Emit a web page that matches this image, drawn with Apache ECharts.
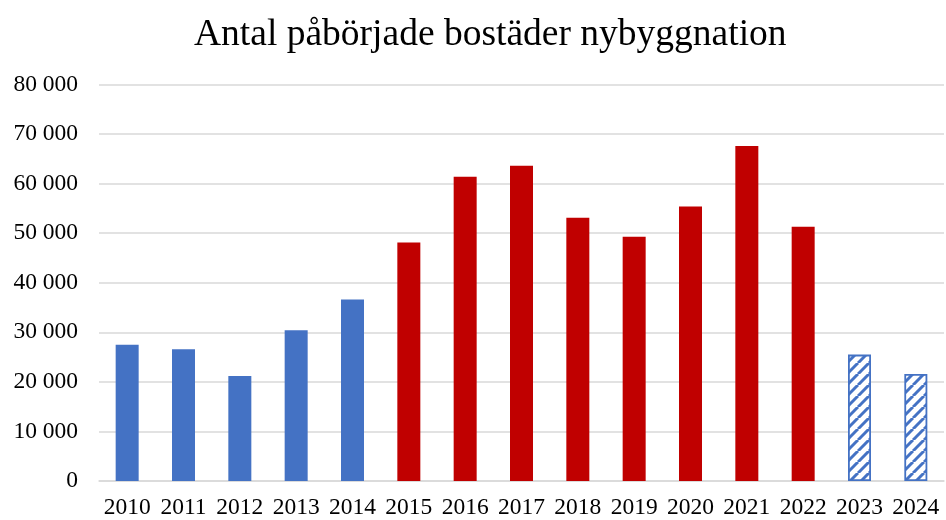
<!DOCTYPE html>
<html>
<head>
<meta charset="utf-8">
<script src="https://cdn.jsdelivr.net/npm/echarts@6/dist/echarts.min.js"></script>
<style>
html,body{margin:0;padding:0;background:#fff;}
#chart{width:946px;height:520px;}
</style>
</head>
<body>
<div id="chart"></div>
<script>
var years = ['2010','2011','2012','2013','2014','2015','2016','2017','2018','2019','2020','2021','2022','2023','2024'];
var starts = [27500, 26600, 21200, 30400, 36600, 48100, 61400, 63600, 53100, 49300, 55400, 67600, 51300, 25500, 21600];
var yTicks = [0, 10000, 20000, 30000, 40000, 50000, 60000, 70000, 80000];
var titleText = 'Antal påbörjade bostäder nybyggnation';

var BLUE = '#4472C4', RED = '#C00000';
var FONT = '"Liberation Serif", "Times New Roman", serif';

function hatch() {
  var c = document.createElement('canvas');
  var s = 11;
  c.width = s; c.height = s;
  var g = c.getContext('2d');
  g.fillStyle = '#fff';
  g.fillRect(0, 0, s, s);
  g.strokeStyle = BLUE;
  g.lineWidth = 3;
  [-s, 0, s].forEach(function (k) {
    g.beginPath();
    g.moveTo(k, s);
    g.lineTo(k + s, 0);
    g.stroke();
  });
  return c;
}
var pattern = { image: hatch(), repeat: 'repeat' };

var data = starts.map(function (v, i) {
  var y = +years[i];
  var style;
  if (y >= 2023) style = { color: pattern, borderColor: BLUE, borderWidth: 1.8 };
  else if (y >= 2015) style = { color: RED };
  else style = { color: BLUE };
  return { value: v, itemStyle: style };
});

var chart = echarts.init(document.getElementById('chart'), null, { renderer: 'canvas' });
chart.setOption({
  animation: false,
  backgroundColor: '#fff',
  title: {
    text: titleText,
    left: 189,
    top: 11,
    textStyle: { fontFamily: FONT, fontSize: 37.5, fontWeight: 'normal', color: '#000' }
  },
  grid: { left: 99, right: 2, top: 84.5, bottom: 37.5, containLabel: false },
  xAxis: {
    type: 'category',
    data: years,
    axisLine: { show: true, lineStyle: { color: '#d9d9d9', width: 1.5 } },
    axisTick: { show: false },
    axisLabel: { fontFamily: FONT, fontSize: 23.5, color: '#000', margin: 15, interval: 0 }
  },
  yAxis: {
    type: 'value',
    min: yTicks[0],
    max: yTicks[yTicks.length - 1],
    interval: yTicks[1] - yTicks[0],
    axisLine: { show: false },
    axisTick: { show: false },
    splitLine: { lineStyle: { color: '#d9d9d9', width: 1.5 } },
    axisLabel: {
      fontFamily: FONT, fontSize: 23.5, color: '#000', margin: 21,
      formatter: function (v) { return String(v).replace(/\B(?=(\d{3})+(?!\d))/g, ' '); }
    }
  },
  series: [{
    type: 'bar',
    data: data,
    barWidth: 23
  }]
});
</script>
</body>
</html>
